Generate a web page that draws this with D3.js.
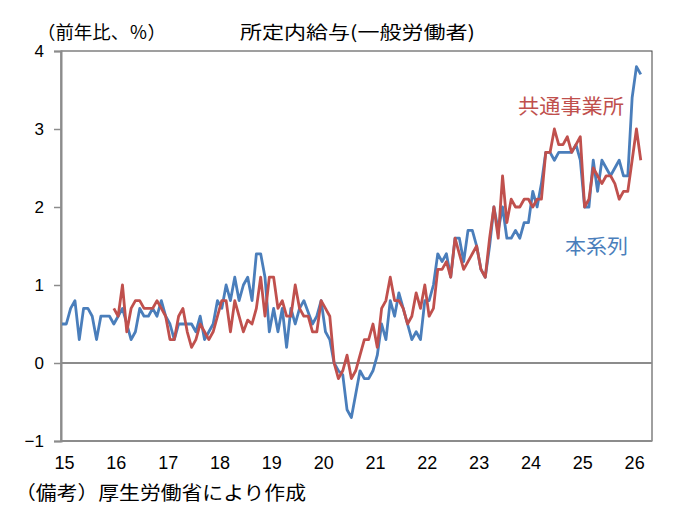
<!DOCTYPE html>
<html><head><meta charset="utf-8">
<script src="https://cdn.jsdelivr.net/npm/d3@7"></script>
<style>
html,body{margin:0;padding:0;background:#fff;}
svg{display:block;}
text{font-family:"Liberation Sans","Noto Sans CJK JP",sans-serif;}
.jp{font-family:"Noto Sans CJK JP","Noto Sans CJK SC",sans-serif;}
</style></head>
<body>
<svg id="c" width="685" height="532"></svg>
<script>
// ---- data (year-on-year %, monthly) ----
const startYear = 2015;            // 本系列 starts Jan 2015
const commonStartOffset = 12;      // 共通事業所 starts Jan 2016 (months after start)
const yearLabels = ["15","16","17","18","19","20","21","22","23","24","25","26"];
const yTicks = [-1, 0, 1, 2, 3, 4];
const seriesNames = ["本系列", "共通事業所"];

const honkeiretsu = [
  0.5,0.5,0.7,0.8,0.3,0.7,0.7,0.6,0.3,0.6,0.6,0.6,      // 2015
  0.5,0.6,0.7,0.5,0.3,0.4,0.7,0.6,0.6,0.7,0.6,0.8,      // 2016
  0.6,0.5,0.3,0.5,0.5,0.5,0.5,0.4,0.6,0.3,0.4,0.5,      // 2017
  0.8,0.7,1.0,0.8,1.1,0.8,1.0,1.1,0.8,1.4,1.4,1.1,      // 2018
  0.4,0.7,0.4,0.7,0.2,0.7,0.5,0.7,0.8,0.65,0.5,0.6,     // 2019
  0.8,0.4,0.3,0.0,-0.1,-0.15,-0.6,-0.7,-0.4,-0.1,-0.2,-0.2, // 2020
  -0.1,0.1,0.5,0.3,0.8,0.6,0.9,0.7,0.5,0.3,0.4,0.3,     // 2021
  0.8,0.8,1.0,1.4,1.3,1.4,1.1,1.6,1.6,1.3,1.7,1.7,      // 2022
  1.5,1.2,1.1,1.5,2.0,1.7,2.0,1.6,1.6,1.7,1.6,1.8,      // 2023
  1.8,2.2,2.0,2.3,2.7,2.7,2.6,2.7,2.7,2.7,2.7,2.8,      // 2024
  2.6,2.0,2.0,2.6,2.2,2.6,2.5,2.4,2.5,2.6,2.4,2.4,      // 2025
  3.4,3.8,3.7                                           // 2026
];
const kyotsu = [
  0.7,0.6,1.0,0.4,0.7,0.8,0.8,0.7,0.7,0.7,0.8,0.7,      // 2016
  0.6,0.3,0.3,0.6,0.7,0.4,0.2,0.3,0.5,0.4,0.3,0.4,      // 2017
  0.6,0.8,0.8,0.4,0.8,0.6,0.4,0.55,0.5,0.7,1.1,0.6,     // 2018
  1.1,1.1,0.7,0.8,0.6,0.6,1.0,0.7,0.6,0.6,0.4,0.4,      // 2019
  0.8,0.7,0.6,0.0,-0.2,-0.1,0.1,-0.2,-0.1,0.1,0.3,0.3,  // 2020
  0.5,0.2,0.7,0.8,1.1,0.8,0.8,0.7,0.5,0.6,0.9,0.7,      // 2021
  1.0,0.6,0.7,1.2,1.2,1.3,1.1,1.6,1.4,1.2,1.3,1.4,      // 2022
  1.5,1.2,1.1,1.6,2.0,1.6,2.4,1.8,2.1,2.0,2.0,2.1,      // 2023
  2.1,2.0,2.1,2.1,2.7,2.7,3.0,2.8,2.8,2.9,2.7,2.8,      // 2024
  2.9,2.0,2.1,2.5,2.4,2.3,2.4,2.4,2.3,2.1,2.2,2.2,      // 2025
  2.6,3.0,2.6                                           // 2026
];

// ---- drawing ----
const svg = d3.select("#c");
const L = 61, R = 652, T = 51, B = 441;
const x = d3.scaleLinear().domain([-0.23, 136.6]).range([L, R]);
const y = d3.scaleLinear().domain([-1, 4]).range([B, T]);

const blueC = "#4a7ebb", redC = "#c0504d", axisC = "#8c8c8c";

// plot frame
svg.append("rect").attr("x", L).attr("y", T).attr("width", R - L).attr("height", B - T)
  .attr("fill", "none").attr("stroke", "#404040").attr("stroke-width", 1);

// y axis
const yAxis = d3.axisLeft(y).tickValues(yTicks).tickSize(7).tickPadding(10)
  .tickFormat(d => d < 0 ? "\u2212" + Math.abs(d) : d);
const gy = svg.append("g").attr("transform", `translate(${L},0)`).call(yAxis);
gy.select(".domain").attr("stroke", axisC).attr("stroke-width", 2);
gy.selectAll(".tick line").attr("stroke", axisC).attr("stroke-width", 1.5);
gy.selectAll(".tick text").attr("font-size", 17).attr("fill", "#000")
  .attr("font-family", "Liberation Sans, sans-serif");

// zero line & bottom axis
svg.append("line").attr("x1", L).attr("x2", R).attr("y1", y(0)).attr("y2", y(0))
  .attr("stroke", axisC).attr("stroke-width", 2);
svg.append("line").attr("x1", L).attr("x2", R).attr("y1", B).attr("y2", B)
  .attr("stroke", axisC).attr("stroke-width", 2);

// x labels
const xAxis = d3.axisBottom(x).tickValues(yearLabels.map((d, i) => i * 12))
  .tickSize(0).tickPadding(15).tickFormat((d, i) => yearLabels[i]);
const gx = svg.append("g").attr("transform", `translate(2,${B})`).call(xAxis);
gx.select(".domain").remove();
gx.selectAll(".tick text").attr("font-size", 18).attr("fill", "#000")
  .attr("font-family", "Liberation Sans, sans-serif");

// lines
const line = d3.line().x(d => x(d.i)).y(d => y(d.v));
const blueData = honkeiretsu.map((v, i) => ({i, v}));
const redData = kyotsu.map((v, i) => ({i: i + commonStartOffset, v}));
svg.append("path").datum(blueData).attr("d", line).attr("fill", "none")
  .attr("stroke", blueC).attr("stroke-width", 2.8).attr("stroke-linejoin", "round");
svg.append("path").datum(redData).attr("d", line).attr("fill", "none")
  .attr("stroke", redC).attr("stroke-width", 2.8).attr("stroke-linejoin", "round");

// texts
svg.append("text").attr("class", "jp").attr("x", 37).attr("y", 39).attr("font-size", 18)
  .attr("textLength", 129).attr("lengthAdjust", "spacingAndGlyphs").text("（前年比、％）");
svg.append("text").attr("class", "jp").attr("x", 240).attr("y", 39).attr("font-size", 18)
  .attr("textLength", 235).attr("lengthAdjust", "spacingAndGlyphs").text("所定内給与(一般労働者)");
svg.append("text").attr("class", "jp").attr("x", 518).attr("y", 114).attr("font-size", 20)
  .attr("fill", redC).attr("textLength", 106).attr("lengthAdjust", "spacingAndGlyphs").text(seriesNames[1]);
svg.append("text").attr("class", "jp").attr("x", 565).attr("y", 254).attr("font-size", 20)
  .attr("fill", blueC).attr("textLength", 63).attr("lengthAdjust", "spacingAndGlyphs").text(seriesNames[0]);
svg.append("text").attr("class", "jp").attr("x", 15).attr("y", 500).attr("font-size", 19)
  .attr("textLength", 291).attr("lengthAdjust", "spacingAndGlyphs").text("（備考）厚生労働省により作成");
</script>
</body></html>
